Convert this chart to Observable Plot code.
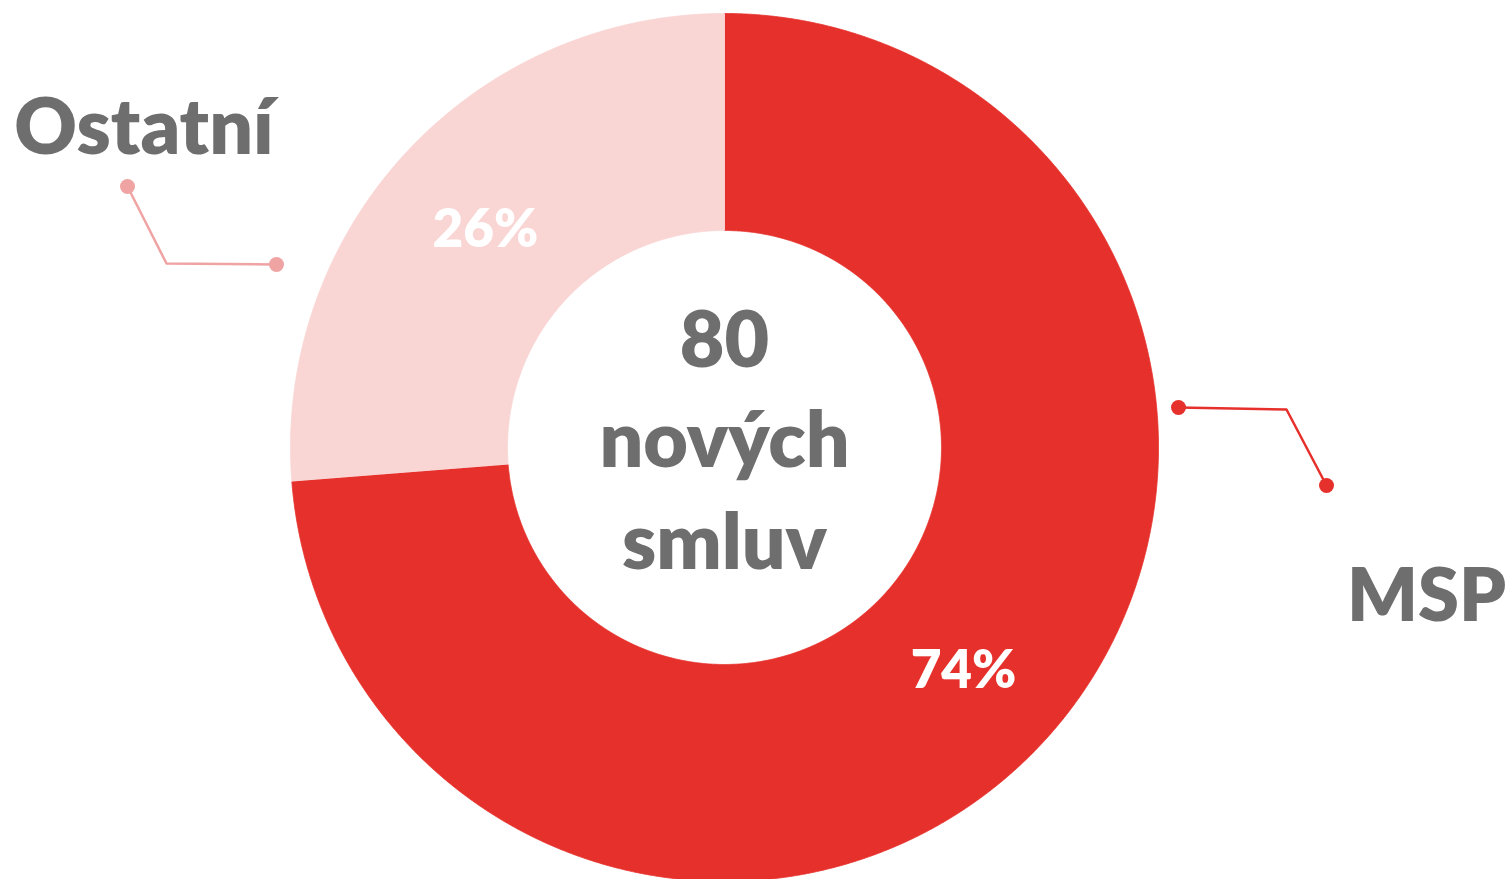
<!DOCTYPE html>
<html>
<head>
<meta charset="utf-8">
<script src="https://cdn.jsdelivr.net/npm/d3@7"></script>
<script src="https://cdn.jsdelivr.net/npm/@observablehq/plot@0.6"></script>
<style>
  html, body { margin: 0; padding: 0; background: #ffffff; }
  #chart svg { display: block; }
</style>
</head>
<body>
<div id="chart"></div>
<script>
// ---- data ----
const categories = ["MSP", "Ostatní"];
const counts = [59, 21];
const percentLabels = ["74%", "26%"];
const centerLines = ["80", "nových", "smluv"];

// ---- styling / layout ----
const W = 1509, H = 879;
const layout = {cx: 724, cy: 447, outer: 434, inner: 217};
const colors = {"MSP": "#E6302B", "Ostatní": "#F9D5D4"};
const leaderColors = {"MSP": "#E6302B", "Ostatní": "#F0A3A3"};
const textGray = "#6E6E6E";
const font = "Lato, 'Open Sans', sans-serif";
const weight = 800;
// leader lines & outside labels, in pixels relative to the donut centre
const leaders = {
  "Ostatní": {pts: [[-448, -183], [-558, -184], [-597, -261]], label: [-580.5, -294], size: 77},
  "MSP": {pts: [[454, -40], [562, -38], [602, 38]], label: [702, 173], size: 74}
};

// ---- geometry from data ----
const total = d3.sum(counts);
const slices = [];
let acc = 0;
categories.forEach((c, i) => {
  const a0 = acc / total * 2 * Math.PI;
  acc += counts[i];
  const a1 = acc / total * 2 * Math.PI;
  slices.push({cat: c, a0, a1, label: percentLabels[i]});
});

const poly = [];
for (const s of slices) {
  const n = Math.max(2, Math.ceil((s.a1 - s.a0) / (Math.PI / 720)));
  for (let k = 0; k <= n; k++) {
    const a = s.a0 + (s.a1 - s.a0) * k / n;
    poly.push({cat: s.cat, x: layout.outer * Math.sin(a), y: -layout.outer * Math.cos(a)});
  }
  for (let k = n; k >= 0; k--) {
    const a = s.a0 + (s.a1 - s.a0) * k / n;
    poly.push({cat: s.cat, x: layout.inner * Math.sin(a), y: -layout.inner * Math.cos(a)});
  }
}

const rm = (layout.outer + layout.inner) / 2;
const pctPts = slices.map(s => {
  const m = (s.a0 + s.a1) / 2;
  return {label: s.label, x: rm * Math.sin(m), y: -rm * Math.cos(m) + 3};
});

const leaderLines = [];
const leaderDots = [];
const outLabels = [];
for (const c of categories) {
  const L = leaders[c];
  L.pts.forEach(p => leaderLines.push({cat: c, x: p[0], y: p[1]}));
  leaderDots.push({cat: c, x: L.pts[0][0], y: L.pts[0][1]});
  leaderDots.push({cat: c, x: L.pts[L.pts.length - 1][0], y: L.pts[L.pts.length - 1][1]});
  outLabels.push({cat: c, x: L.label[0], y: L.label[1], size: L.size});
}

const centerBaselines = [-81, 19, 121];
const centerPts = centerLines.map((t, i) => ({t, x: 0, y: centerBaselines[i]}));

const chart = Plot.plot({
  width: W,
  height: H,
  margin: 0,
  style: {background: "#ffffff", fontFamily: font},
  x: {domain: [-layout.cx, W - layout.cx], range: [0, W], axis: null},
  y: {domain: [-layout.cy, H - layout.cy], range: [0, H], axis: null},
  marks: [
    Plot.line(poly, {x: "x", y: "y", z: "cat", fill: d => colors[d.cat], stroke: d => colors[d.cat], strokeWidth: 0.8, curve: "linear"}),
    Plot.line(leaderLines, {x: "x", y: "y", z: "cat", stroke: d => leaderColors[d.cat], strokeWidth: 2.5}),
    Plot.dot(leaderDots, {x: "x", y: "y", r: 7.5, fill: d => leaderColors[d.cat], stroke: "none"}),
    Plot.text(pctPts, {x: "x", y: "y", text: "label", fill: "#ffffff", fontSize: 53, fontWeight: weight, fontFamily: font, textAnchor: "middle", lineAnchor: "middle"}),
    Plot.text(centerPts, {x: "x", y: "y", text: "t", fill: textGray, fontSize: 77, fontWeight: weight, fontFamily: font, textAnchor: "middle", lineAnchor: "bottom"}),
    Plot.text(outLabels.filter(d => d.cat === "Ostatní"), {x: "x", y: "y", text: "cat", fill: textGray, fontSize: 77, fontWeight: weight, fontFamily: font, textAnchor: "middle", lineAnchor: "bottom"}),
    Plot.text(outLabels.filter(d => d.cat === "MSP"), {x: "x", y: "y", text: "cat", fill: textGray, fontSize: 74, fontWeight: weight, fontFamily: font, textAnchor: "middle", lineAnchor: "bottom"})
  ]
});
document.getElementById("chart").appendChild(chart);
</script>
</body>
</html>
